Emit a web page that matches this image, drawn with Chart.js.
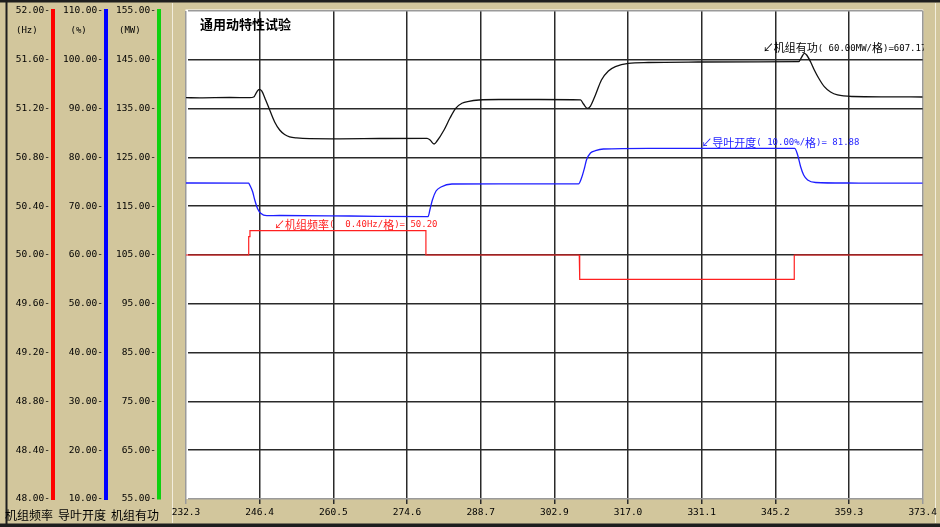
<!DOCTYPE html>
<html>
<head>
<meta charset="utf-8">
<script src="https://cdn.jsdelivr.net/npm/chart.js"></script>
<style>
  html, body { margin: 0; padding: 0; background: #d2c69c; }
  #wrap { width: 940px; height: 527px; }
</style>
</head>
<body>
<div id="wrap"><canvas id="chart" width="940" height="527"></canvas></div>
<script>
// x axis (time) ticks
const xMin = 232.3, xMax = 373.4;
const xTickLabels = ['232.3', '246.4', '260.5', '274.6', '288.7', '302.9', '317.0', '331.1', '345.2', '359.3', '373.4'];

// left axes ticks
const hzTicks = [48.0, 48.4, 48.8, 49.2, 49.6, 50.0, 50.4, 50.8, 51.2, 51.6, 52.0];
const pctTicks = [10, 20, 30, 40, 50, 60, 70, 80, 90, 100, 110];
const mwTicks = [55, 65, 75, 85, 95, 105, 115, 125, 135, 145, 155];

const unitLabels = ['(Hz)', '(%)', '(MW)'];
const axisNames = ['机组频率', '导叶开度', '机组有功'];

// 机组频率 (Hz)
const freqX = [232.3, 244.31, 244.31, 244.55, 244.55, 278.25, 278.25, 307.62, 307.62, 307.75, 307.75, 348.8, 348.8, 373.4];
const freqY = [50.0, 50.0, 50.15, 50.15, 50.2, 50.2, 50.0, 50.0, 49.9, 49.9, 49.8, 49.8, 50.0, 50.0];

// 导叶开度 (%)
const gateX = [232.3, 244.32, 244.51, 245.08, 245.47, 246.04, 246.61, 247.76, 250.24, 263.59, 278.66, 279.05, 279.49, 280.19, 281.14, 283.24, 292.21, 307.48, 308.05, 308.62, 309.0, 309.77, 310.72, 312.25, 320.84, 348.88, 349.45, 350.02, 350.6, 351.36, 352.89, 358.99, 373.4];
const gateY = [74.75, 74.71, 74.34, 72.91, 71.27, 69.43, 68.55, 68.05, 68.09, 67.99, 67.85, 69.43, 71.27, 73.11, 73.93, 74.55, 74.59, 74.59, 75.78, 77.83, 79.47, 80.9, 81.37, 81.72, 81.86, 81.86, 80.49, 78.09, 76.39, 75.37, 74.86, 74.75, 74.71];

// 机组有功 (MW)
const powerX = [232.3, 234.97, 240.7, 244.51, 245.27, 245.85, 246.32, 246.8, 247.56, 248.33, 249.28, 250.24, 251.19, 252.14, 253.48, 255.96, 261.68, 269.32, 278.47, 279.05, 279.81, 280.38, 281.72, 282.86, 283.95, 285.15, 286.49, 288.4, 292.21, 299.85, 307.86, 308.43, 309.19, 309.77, 310.72, 311.87, 313.2, 314.54, 317.02, 320.84, 330.38, 341.82, 349.65, 350.22, 350.73, 351.17, 351.94, 352.64, 353.46, 354.55, 355.75, 357.09, 359.95, 366.63, 373.4];
const powerY = [137.23, 137.21, 137.27, 137.25, 137.38, 138.4, 138.96, 138.61, 136.76, 134.71, 132.25, 130.61, 129.69, 129.22, 128.98, 128.83, 128.81, 128.87, 128.91, 128.57, 127.75, 128.36, 130.61, 133.07, 135.06, 136.09, 136.5, 136.76, 136.86, 136.86, 136.8, 135.94, 135.06, 135.53, 137.79, 140.86, 142.7, 143.59, 144.28, 144.45, 144.55, 144.59, 144.61, 145.57, 146.33, 145.98, 144.55, 142.91, 141.27, 139.49, 138.4, 137.79, 137.48, 137.42, 137.38];

// cursor read-outs (anchored in data units)
const notes = [
  { text: '↙机组有功( 60.00MW/格)=607.17', x: 342.77, y: 147.36, axis: 'yMW', color: '#000000' },
  { text: '↙导叶开度( 10.00%/格)= 81.88', x: 331.0, y: 83.0, axis: 'yPct', color: '#1e1eff' },
  { text: '↙机组频率(  0.40Hz/格)= 50.20', x: 249.15, y: 50.246, axis: 'yHz', color: '#ff2020' }
];

function pts(xs, ys) {
  return xs.map(function (x, i) { return { x: x, y: ys[i] }; });
}

const monoFont = "9px 'DejaVu Sans Mono', monospace";
const cjkFont = "11px 'Noto Sans CJK SC'";
const tickFont = { family: "'DejaVu Sans Mono', monospace", size: 9.5 };
const edgeGrid = function (c) {
  return (c.index === 0 || c.index === 10) ? '#9a9a9a' : '#2a2a2a';
};

// draws mixed text: CJK glyphs in one font, ASCII in the mono font
function mixedText(ctx, str, x, y) {
  for (const ch of str) {
    ctx.font = ch.charCodeAt(0) > 0x2000 ? cjkFont : monoFont;
    ctx.fillText(ch, x, y);
    x += ctx.measureText(ch).width;
  }
}

const framePlugin = {
  id: 'frame',
  beforeDraw: function (chart) {
    const ctx = chart.ctx, a = chart.chartArea;
    ctx.save();
    ctx.fillStyle = '#d2c69c';
    ctx.fillRect(0, 0, 940, 527);
    // outer dark border
    ctx.fillStyle = '#1e1e1e';
    ctx.fillRect(0, 0, 940, 2.5);
    ctx.fillRect(5.5, 0, 2, 527);
    ctx.fillRect(0, 523.5, 940, 3.5);
    // light bevel lines of the plot panel
    ctx.strokeStyle = '#f2eddc';
    ctx.lineWidth = 1;
    ctx.beginPath();
    ctx.moveTo(172.5, 3); ctx.lineTo(172.5, 523);
    ctx.moveTo(935.5, 3); ctx.lineTo(935.5, 523);
    ctx.stroke();
    // white plot area
    ctx.fillStyle = '#ffffff';
    ctx.fillRect(a.left - 0.5, a.top - 1.5, a.right - a.left + 1, a.bottom - a.top + 1.5);
    ctx.restore();
  },
  afterDraw: function (chart) {
    const ctx = chart.ctx, a = chart.chartArea, s = chart.scales;
    ctx.save();
    // title
    ctx.fillStyle = '#000';
    ctx.font = "bold 13px 'Noto Sans CJK SC'";
    ctx.textBaseline = 'middle';
    ctx.textAlign = 'left';
    ctx.fillText('通用动特性试验', a.left + 14, 24);
    // read-outs
    ctx.beginPath();
    ctx.rect(a.left, a.top - 2, a.right - a.left + 1, a.bottom - a.top + 2);
    ctx.clip();
    notes.forEach(function (n) {
      ctx.fillStyle = n.color;
      mixedText(ctx, n.text, s.x.getPixelForValue(n.x), s[n.axis].getPixelForValue(n.y));
    });
    ctx.restore();

    // units and axis names in the left panel
    ctx.save();
    ctx.fillStyle = '#000';
    ctx.textBaseline = 'middle';
    const axes = [s.yHz, s.yPct, s.yMW];
    const unitOffset = [37, 35.5, 40];
    ctx.font = "9px 'DejaVu Sans Mono', monospace";
    ctx.textAlign = 'left';
    axes.forEach(function (ax, i) {
      ctx.fillText(unitLabels[i], ax.right - unitOffset[i], 31);
    });
    ctx.font = "12px 'Noto Sans CJK SC'";
    ctx.textAlign = 'center';
    axes.forEach(function (ax, i) {
      ctx.fillText(axisNames[i], ax.right - 24, 515);
    });
    ctx.restore();
  }
};

function leftAxis(ticks, weight, color) {
  return {
    type: 'linear',
    position: 'left',
    weight: weight,
    min: ticks[0],
    max: ticks[ticks.length - 1],
    afterBuildTicks: function (sc) {
      sc.ticks = ticks.map(function (v) { return { value: v }; });
    },
    afterFit: function (sc) { sc.width = 53; },
    ticks: {
      font: tickFont,
      color: '#000',
      padding: 3,
      autoSkip: false,
      callback: function (v) { return Number(v).toFixed(2) + '-'; }
    },
    grid: { display: false, drawTicks: false },
    border: { display: true, color: color, width: 4 }
  };
}

const yMW = leftAxis(mwTicks, 1, '#10d010');
yMW.grid = { display: true, drawTicks: false, color: edgeGrid, lineWidth: 1.5 };

new Chart(document.getElementById('chart').getContext('2d'), {
  type: 'line',
  data: {
    datasets: [
      { label: '机组频率', data: pts(freqX, freqY), yAxisID: 'yHz', borderColor: '#ff2020', borderWidth: 1.2, pointRadius: 0, tension: 0 },
      { label: '导叶开度', data: pts(gateX, gateY), yAxisID: 'yPct', borderColor: '#1e1eff', borderWidth: 1.3, pointRadius: 0, cubicInterpolationMode: 'monotone' },
      { label: '机组有功', data: pts(powerX, powerY), yAxisID: 'yMW', borderColor: '#111111', borderWidth: 1.3, pointRadius: 0, cubicInterpolationMode: 'monotone' }
    ]
  },
  options: {
    responsive: false,
    animation: false,
    devicePixelRatio: 1,
    layout: { padding: { top: 11, right: 14.5, bottom: 0, left: 0 } },
    plugins: { legend: { display: false }, tooltip: { enabled: false } },
    scales: {
      x: {
        type: 'linear',
        min: xMin,
        max: xMax,
        afterBuildTicks: function (sc) {
          sc.ticks = xTickLabels.map(function (l, i) { return { value: xMin + i * (xMax - xMin) / 10 }; });
        },
        afterFit: function (sc) { sc.height = 28; },
        ticks: {
          font: tickFont,
          color: '#000',
          padding: 3,
          maxRotation: 0,
          autoSkip: false,
          callback: function (v, i) { return xTickLabels[i]; }
        },
        grid: { color: edgeGrid, lineWidth: 1.5, tickLength: 5 },
        border: { display: false }
      },
      yHz: leftAxis(hzTicks, 3, '#ff0000'),
      yPct: leftAxis(pctTicks, 2, '#0000ff'),
      yMW: yMW,
      ySpace: {
        type: 'linear',
        position: 'left',
        weight: 0,
        afterFit: function (sc) { sc.width = 27; },
        ticks: { display: false },
        grid: { display: false, drawTicks: false },
        border: { display: false }
      }
    }
  },
  plugins: [framePlugin]
});
</script>
</body>
</html>
